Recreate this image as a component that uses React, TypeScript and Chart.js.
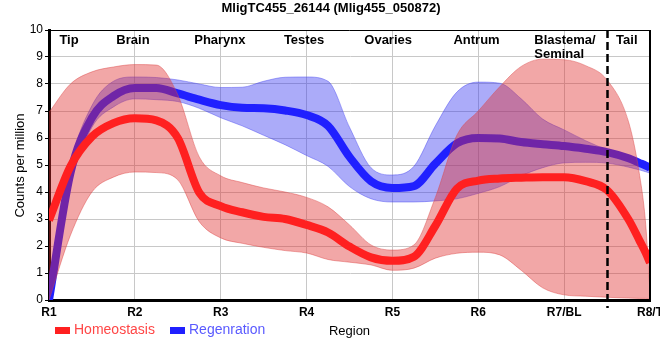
import React, { useEffect, useRef } from "react";
import { Chart, registerables } from "chart.js";

Chart.register(...registerables);

const FONT = "'Liberation Sans', Arial, sans-serif";

const POS = [1, 1.25, 1.5, 1.75, 2, 2.25, 2.5, 2.75, 3, 3.25, 3.5, 3.75, 4, 4.25, 4.5, 4.75, 5, 5.25, 5.5, 5.75, 6, 6.25, 6.5, 6.75, 7, 7.25, 7.5, 7.75, 7.875, 7.95, 8];

const TICK_LABELS = ["R1", "R2", "R3", "R4", "R5", "R6", "R7/BL", "R8/T"];

const REGION_NAMES = ["Tip", "Brain", "Pharynx", "Testes", "Ovaries", "Antrum", "Blastema/\nSeminal", "Tail"];
const REGION_POS = [1.233, 1.978, 2.99, 3.97, 4.95, 5.98, 7.01, 7.73];

const BOUNDARY = 7.5;

const HOMEO_MEAN = [2.95, 4.95, 6.05, 6.55, 6.73, 6.65, 6.0, 3.98, 3.48, 3.25, 3.08, 3.0, 2.78, 2.5, 1.98, 1.58, 1.45, 1.6, 2.75, 4.12, 4.42, 4.5, 4.53, 4.55, 4.55, 4.4, 4.07, 2.98, 2.22, 1.75, 1.38];
const HOMEO_HI = [6.95, 8.0, 8.45, 8.63, 8.72, 8.7, 7.6, 5.3, 4.6, 4.35, 4.15, 4.0, 3.8, 3.45, 2.78, 2.04, 1.85, 2.04, 3.8, 6.1, 7.0, 7.9, 8.65, 8.92, 8.9, 8.68, 8.15, 6.6, 4.7, 2.8, 0.3];
const HOMEO_LO = [0, 2.4, 4.0, 4.55, 4.74, 4.72, 4.45, 2.9, 2.3, 2.1, 1.95, 1.83, 1.74, 1.5, 1.4, 1.3, 1.1, 1.18, 1.55, 1.73, 1.77, 1.67, 1.1, 0.45, 0.19, 0.14, 0.1, 0.07, 0.06, 0.06, 0.05];

const REGEN_MEAN = [0, 4.7, 6.75, 7.55, 7.85, 7.85, 7.65, 7.42, 7.22, 7.12, 7.1, 7.02, 6.85, 6.45, 5.3, 4.4, 4.15, 4.22, 5.05, 5.8, 6.0, 5.98, 5.85, 5.77, 5.7, 5.6, 5.48, 5.25, 5.08, 4.98, 4.9];
const REGEN_HI = [0.2, 5.0, 7.2, 8.1, 8.26, 8.24, 8.15, 8.0, 7.87, 7.88, 8.1, 8.25, 8.26, 8.1, 6.4, 4.9, 4.63, 4.95, 6.45, 7.7, 8.07, 8.03, 7.45, 6.7, 6.3, 5.9, 5.55, 5.17, 5.1, 5.07, 5.05];
const REGEN_LO = [0, 4.3, 6.4, 7.15, 7.45, 7.42, 7.35, 7.1, 6.75, 6.45, 6.1, 5.75, 5.35, 4.95, 4.2, 3.75, 3.63, 3.63, 3.67, 3.75, 3.95, 4.2, 4.6, 4.9, 5.08, 5.1, 5.07, 4.92, 4.82, 4.75, 4.7];

const RED_LINE = "rgb(255,32,32)";
const BLUE_LINE = "rgb(32,32,255)";

const pts = (ys: number[]) => POS.map((x, i) => ({ x, y: ys[i] }));

const overlay = {
  id: "overlay",
  afterDatasetsDraw(chart: any) {
    const { ctx, chartArea } = chart;
    const xs = chart.scales.x;
    ctx.save();
    // dashed boundary
    const bx = Math.round(xs.getPixelForValue(BOUNDARY)) + 0.5;
    ctx.strokeStyle = "#000";
    ctx.lineWidth = 2.5;
    ctx.setLineDash([8, 4]);
    ctx.beginPath();
    ctx.moveTo(bx, chartArea.top);
    ctx.lineTo(bx, chartArea.bottom + 8);
    ctx.stroke();
    ctx.setLineDash([]);
    // top and right borders
    ctx.lineWidth = 1;
    ctx.beginPath();
    ctx.moveTo(chartArea.left, chartArea.top + 0.5);
    ctx.lineTo(chartArea.right, chartArea.top + 0.5);
    ctx.stroke();
    ctx.lineWidth = 2;
    ctx.beginPath();
    ctx.moveTo(chartArea.right, chartArea.top);
    ctx.lineTo(chartArea.right, chartArea.bottom);
    ctx.stroke();
    // region labels
    ctx.fillStyle = "#000";
    ctx.font = `bold 13px ${FONT}`;
    ctx.textBaseline = "middle";
    ctx.textAlign = "left";
    REGION_NAMES.forEach((name, i) => {
      const lines = name.split("\n");
      const cx = xs.getPixelForValue(REGION_POS[i]);
      const w = ctx.measureText(lines[0]).width;
      lines.forEach((ln: string, j: number) => {
        ctx.fillText(ln, cx - w / 2, chartArea.top + 10 + j * 14);
      });
    });
    ctx.restore();
  },
  afterDraw(chart: any) {
    const { ctx, chartArea } = chart;
    ctx.save();
    ctx.fillStyle = "#000";
    ctx.textBaseline = "middle";
    ctx.textAlign = "center";
    ctx.font = `bold 13px ${FONT}`;
    ctx.fillText("MligTC455_26144 (Mlig455_050872)", 331, 8);
    // y title
    ctx.font = `13px ${FONT}`;
    ctx.save();
    ctx.translate(20, 165.5);
    ctx.rotate(-Math.PI / 2);
    ctx.fillText("Counts per million", 0, 0);
    ctx.restore();
    // x title
    ctx.fillText("Region", (chartArea.left + chartArea.right) / 2, 331);
    // legend
    const items = [
      { label: chart.data.datasets[0].label, box: RED_LINE, text: "rgb(255,70,70)", x: 55 },
      { label: chart.data.datasets[3].label, box: BLUE_LINE, text: "rgb(90,90,255)", x: 170 },
    ];
    ctx.textAlign = "left";
    ctx.font = `14px ${FONT}`;
    items.forEach((it) => {
      ctx.fillStyle = it.box;
      ctx.fillRect(it.x, 327, 15, 7);
      ctx.fillStyle = it.text;
      ctx.fillText(it.label, it.x + 19, 330.5);
    });
    ctx.restore();
  },
};

export default function App() {
  const ref = useRef<HTMLCanvasElement | null>(null);
  useEffect(() => {
    if (!ref.current) return;
    const common = { pointRadius: 0, pointHoverRadius: 0, tension: 0.4, cubicInterpolationMode: "monotone" as const };
    const chart = new Chart(ref.current, {
      type: "line",
      data: {
        datasets: [
          { ...common, label: "Homeostasis", data: pts(HOMEO_MEAN), borderColor: RED_LINE, borderWidth: 8, fill: false, order: 0 },
          { ...common, label: "Homeostasis upper", data: pts(HOMEO_HI), borderColor: "rgba(220,70,70,0.45)", borderWidth: 1, backgroundColor: "rgba(225,45,45,0.42)", fill: 2, order: 1 },
          { ...common, label: "Homeostasis lower", data: pts(HOMEO_LO), borderColor: "rgba(220,70,70,0.45)", borderWidth: 1, fill: false, order: 1 },
          { ...common, label: "Regenration", data: pts(REGEN_MEAN), borderColor: BLUE_LINE, borderWidth: 8, fill: false, order: 2 },
          { ...common, label: "Regenration upper", data: pts(REGEN_HI), borderColor: "rgba(70,70,240,0.45)", borderWidth: 1, backgroundColor: "rgba(45,45,240,0.4)", fill: 5, order: 3 },
          { ...common, label: "Regenration lower", data: pts(REGEN_LO), borderColor: "rgba(70,70,240,0.45)", borderWidth: 1, fill: false, order: 3 },
        ],
      },
      options: {
        responsive: false,
        animation: false,
        layout: { padding: { top: 30, right: 10, left: 0, bottom: 0 } },
        plugins: { legend: { display: false }, title: { display: false }, tooltip: { enabled: false } },
        scales: {
          x: {
            type: "linear",
            min: 1,
            max: 8,
            afterBuildTicks: (s: any) => {
              s.ticks = TICK_LABELS.map((_, i) => ({ value: i + 1 }));
            },
            ticks: {
              autoSkip: false,
              maxRotation: 0,
              padding: 5,
              color: "#000",
              font: { family: FONT, size: 12, weight: "bold" },
              callback: (v: any) => TICK_LABELS[Math.round(v) - 1],
            },
            grid: { color: "#c8c8c8", drawTicks: false },
            border: { color: "#000", width: 3 },
            afterFit: (s: any) => {
              s.height = 60;
              s.paddingLeft = 0;
              s.paddingRight = 0;
            },
          },
          y: {
            min: 0,
            max: 10,
            ticks: { stepSize: 1, padding: 2, color: "#000", font: { family: FONT, size: 12 } },
            grid: { color: "#c8c8c8", drawTicks: true, tickLength: 4, tickColor: "#000", tickWidth: 1 },
            border: { color: "#000", width: 3 },
            afterFit: (s: any) => {
              s.width = 49;
              s.paddingTop = 0;
              s.paddingBottom = 0;
            },
          },
        },
      },
      plugins: [overlay],
    });
    return () => chart.destroy();
  }, []);
  return (
    <div style={{ position: "absolute", left: 0, top: 0, width: 660, height: 360, background: "#fff" }}>
      <canvas ref={ref} width={660} height={360} style={{ display: "block" }} />
    </div>
  );
}
